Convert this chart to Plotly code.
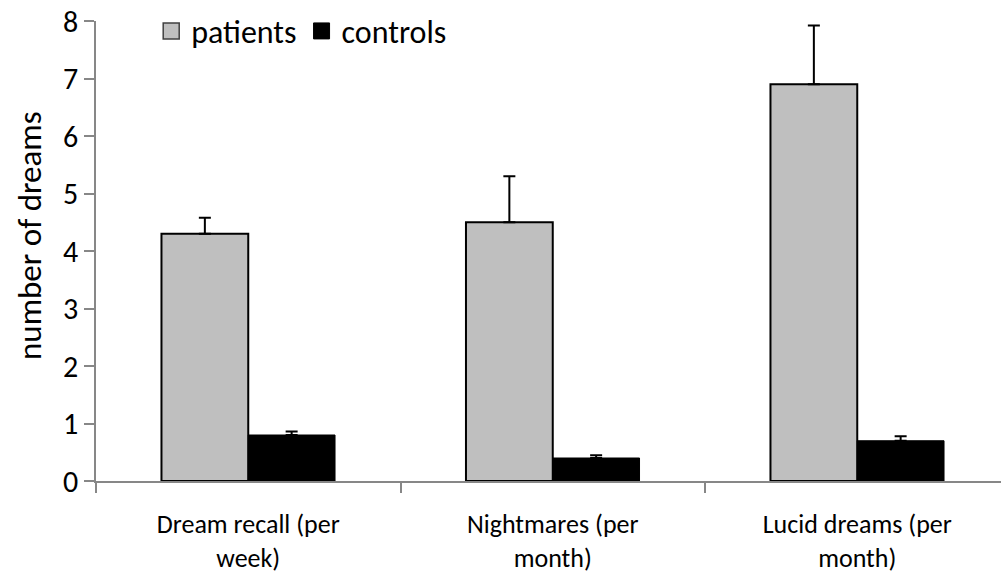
import plotly.graph_objects as go

categories = ["Dream recall (per<br>week)", "Nightmares (per<br>month)", "Lucid dreams (per<br>month)"]
patients = [4.3, 4.5, 6.9]
patients_err = [0.28, 0.8, 1.02]
controls = [0.8, 0.4, 0.7]
controls_err = [0.06, 0.05, 0.08]
y_ticks = [0, 1, 2, 3, 4, 5, 6, 7, 8]

FONT = "Carlito, Lato, 'Open Sans', sans-serif"
AXIS_GREY = "#878787"
PATIENT_FILL = "#BFBFBF"

fig = go.Figure()
fig.add_trace(go.Bar(
    name="patients", x=categories, y=patients, showlegend=False,
    marker=dict(color=PATIENT_FILL, line=dict(color="black", width=2)),
    error_y=dict(type="data", array=patients_err, symmetric=False, arrayminus=[0, 0, 0],
                 color="black", thickness=2, width=6),
))
fig.add_trace(go.Bar(
    name="controls", x=categories, y=controls, showlegend=False,
    marker=dict(color="black", line=dict(color="black", width=1)),
    error_y=dict(type="data", array=controls_err, symmetric=False, arrayminus=[0, 0, 0],
                 color="black", thickness=2, width=6),
))

# legend keys drawn as larger square markers
fig.add_trace(go.Scatter(
    name="patients", x=[None], y=[None], mode="markers",
    marker=dict(symbol="square", size=16, color=PATIENT_FILL, line=dict(color="#404040", width=1.5)),
))
fig.add_trace(go.Scatter(
    name="controls", x=[None], y=[None], mode="markers",
    marker=dict(symbol="square", size=16, color="black", line=dict(color="black", width=1)),
))

fig.update_layout(
    width=1001, height=573,
    margin=dict(l=96, r=0, t=21, b=92),
    paper_bgcolor="white", plot_bgcolor="white",
    barmode="group", bargap=0.43, bargroupgap=0,
    font=dict(family=FONT, size=28, color="black"),
    legend=dict(orientation="h", x=0.061, y=0.978, xanchor="left", yanchor="middle",
                font=dict(size=32), itemwidth=30, tracegroupgap=0,
                bgcolor="rgba(0,0,0,0)"),
    showlegend=True,
    annotations=[dict(
        text="number of dreams", textangle=-90, showarrow=False,
        xref="paper", yref="paper", x=(30 - 96) / 905, y=(481 - 236) / 460,
        xanchor="center", yanchor="middle", font=dict(size=33),
    )],
)
fig.update_xaxes(
    range=[-0.5, -0.5 + 905 / 304.5], automargin=False,
    showline=True, linecolor=AXIS_GREY, linewidth=1.5,
    ticks="outside", tickson="boundaries", ticklen=10, tickcolor=AXIS_GREY, tickwidth=1.5,
    showgrid=False, tickfont=dict(size=26), ticklabelstandoff=19,
)
fig.update_yaxes(
    range=[0, 8], tickvals=y_ticks, automargin=False,
    showline=True, linecolor=AXIS_GREY, linewidth=1.5,
    ticks="outside", ticklen=10, tickcolor=AXIS_GREY, tickwidth=1.5,
    showgrid=False, zeroline=False, tickfont=dict(size=30),
)

fig.write_html("out.html")
